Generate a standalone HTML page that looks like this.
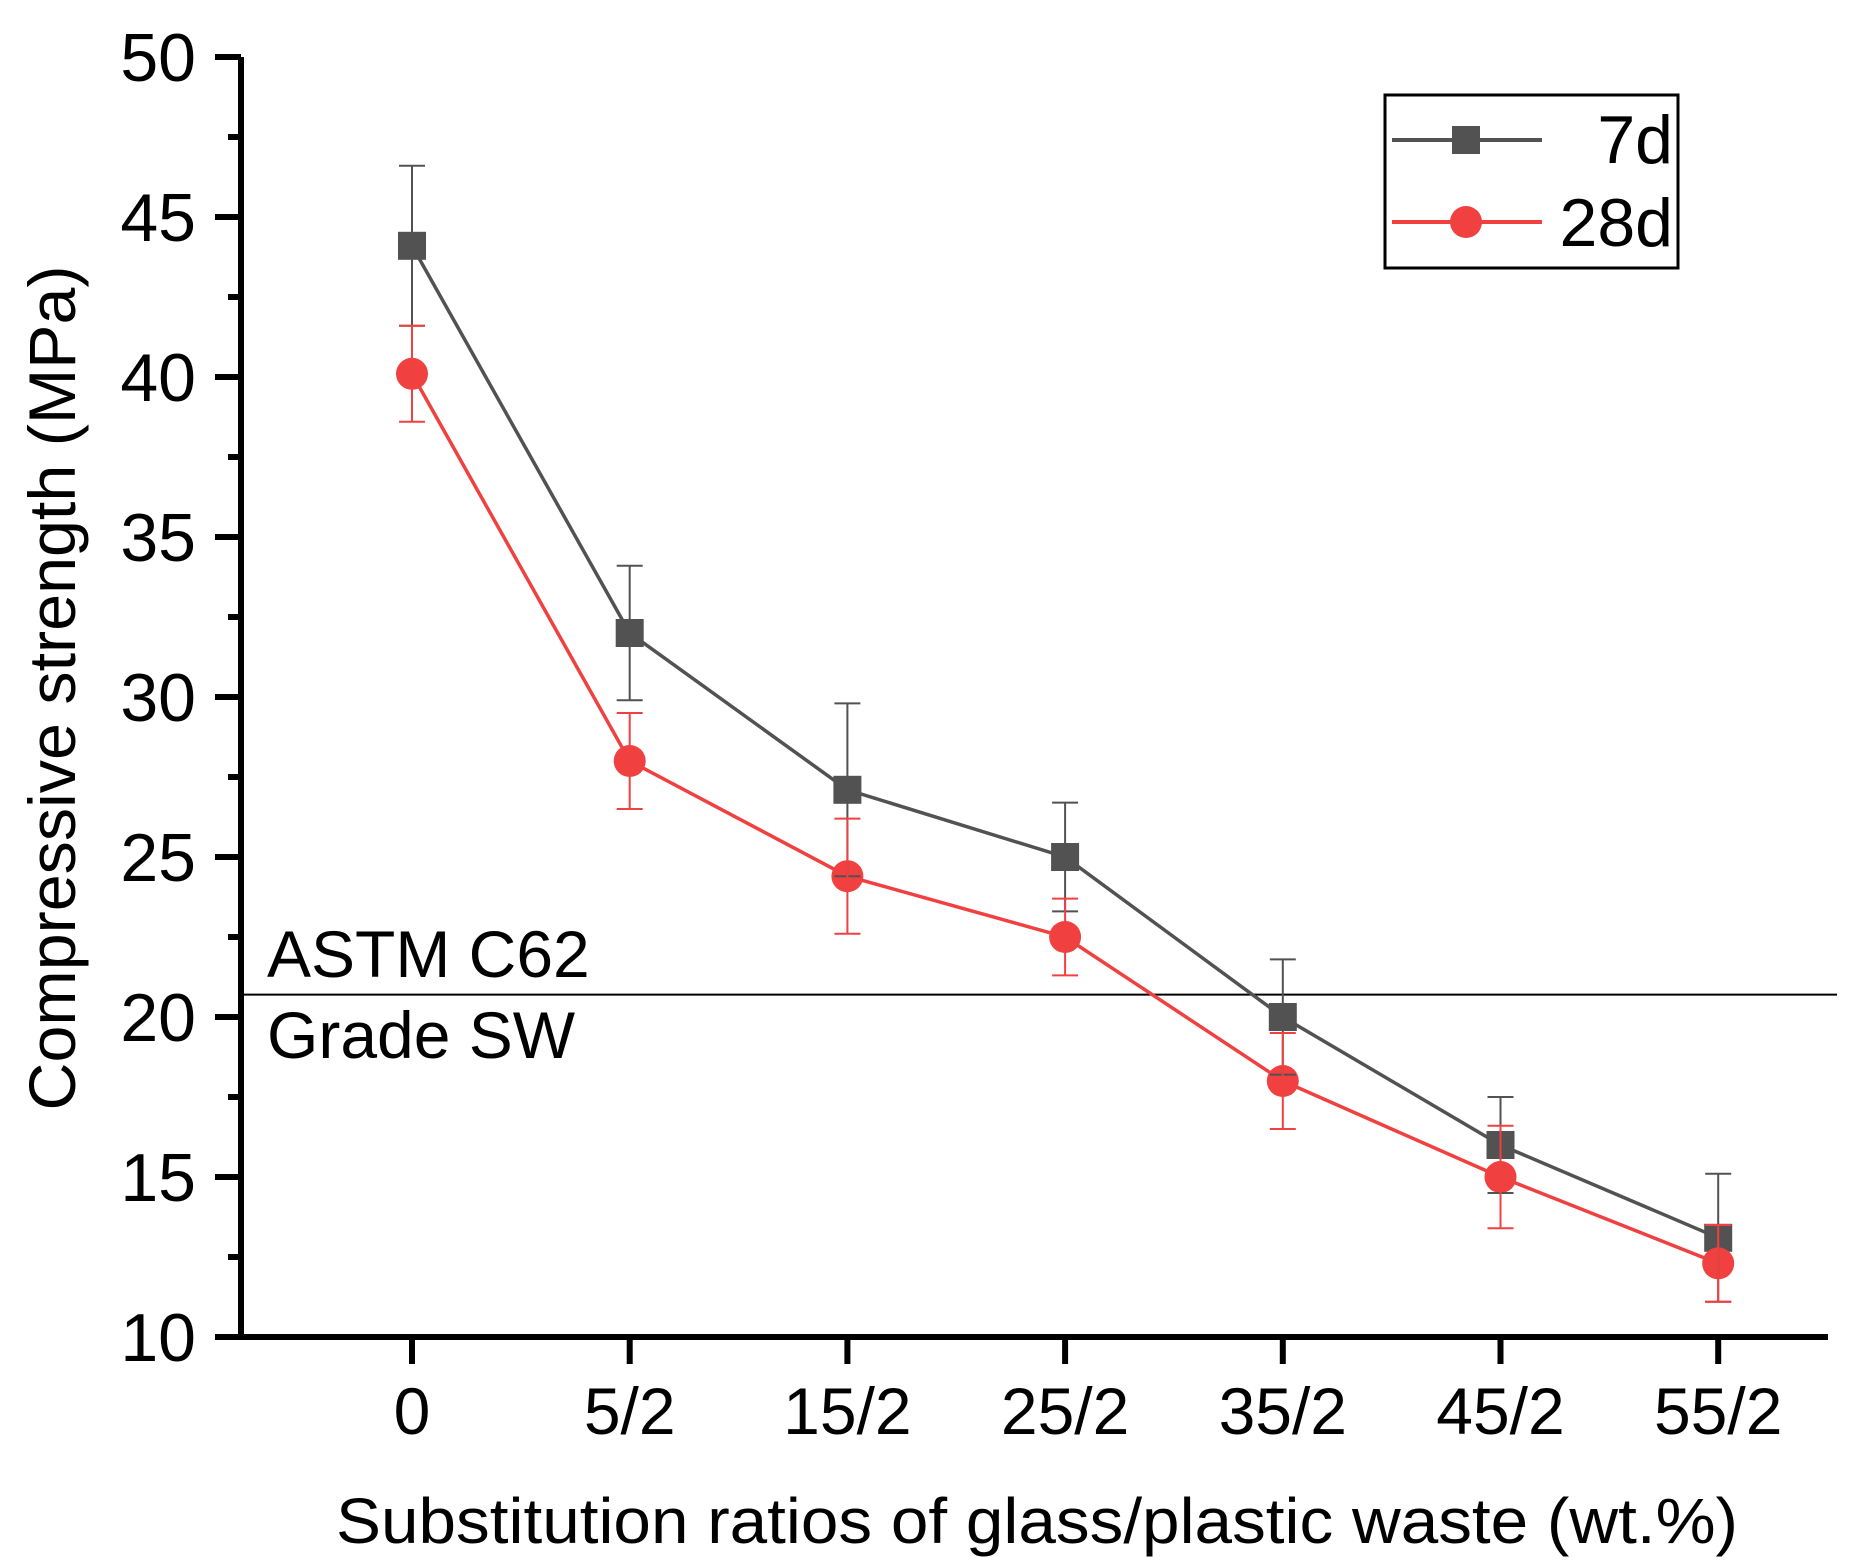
<!DOCTYPE html>
<html><head><meta charset="utf-8"><style>
html,body{margin:0;padding:0;background:#fff;}
svg{display:block;font-family:"Liberation Sans",Arial,sans-serif;}
</style></head><body>
<svg id="chart" width="1855" height="1568" viewBox="0 0 1855 1568" xmlns="http://www.w3.org/2000/svg">
<g id="plot"></g>
<text transform="translate(75,688) rotate(-90)" text-anchor="middle" font-size="66" textLength="845" lengthAdjust="spacingAndGlyphs">Compressive strength (MPa)</text>
<text x="336" y="1543" font-size="64" textLength="1402" lengthAdjust="spacingAndGlyphs">Substitution ratios of  glass/plastic waste (wt.%)</text>
<text x="267" y="977" font-size="66">ASTM C62</text>
<text x="267" y="1058" font-size="66">Grade SW</text>
<g>
<rect x="1385" y="95" width="293" height="173" fill="#fff" stroke="#000" stroke-width="3"/>
<line x1="1392" y1="140" x2="1542" y2="140" stroke="#525252" stroke-width="4"/>
<rect x="1452" y="126" width="28" height="28" fill="#525252"/>
<text x="1673" y="163" font-size="68" text-anchor="end">7d</text>
<line x1="1392" y1="222" x2="1542" y2="222" stroke="#f04040" stroke-width="4"/>
<circle cx="1466" cy="222" r="16" fill="#f04040"/>
<text x="1673" y="246" font-size="68" text-anchor="end">28d</text>
</g>
</svg>
<script>
const categories = ["0","5/2","15/2","25/2","35/2","45/2","55/2"];
const s7 = [44.1,32,27.1,25,20,16,13.1];
const e7 = [2.5,2.1,2.7,1.7,1.8,1.5,2.0];
const s28 = [40.1,28,24.4,22.5,18,15,12.3];
const e28 = [1.5,1.5,1.8,1.2,1.5,1.6,1.2];
const yTicks = [10,15,20,25,30,35,40,45,50];
const refValue = 20.7;

const NS="http://www.w3.org/2000/svg";
const g=document.getElementById('plot');
const X0=241, X1=1828, Y10=1337, PX=32;
const xs=i=>412+i*217.7;
const ys=v=>Y10-(v-10)*PX;
function mk(t,a){const e=document.createElementNS(NS,t);for(const k in a)e.setAttribute(k,a[k]);g.appendChild(e);return e;}

let rl=mk('line',{x1:X0,x2:1837,y1:ys(refValue),y2:ys(refValue),stroke:'#000','stroke-width':2});



function series(vals,color,name,square){
  let pts=vals.map((v,i)=>xs(i)+','+ys(v)).join(' ');
  let pl=mk('polyline',{points:pts,fill:'none',stroke:color,'stroke-width':3.5});
  
  
  vals.forEach((v,i)=>{
    let m;
    if(square){m=mk('rect',{x:xs(i)-14,y:ys(v)-14,width:28,height:28,fill:color});}
    else{m=mk('circle',{cx:xs(i),cy:ys(v),r:16,fill:color});}
    
    
  });
}
series(s7,'#525252','series-7d',true);
series(s28,'#f04040','series-28d',false);
function errbars(vals,errs,color,name){
  vals.forEach((v,i)=>{
    const x=xs(i),t=ys(v+errs[i]),b=ys(v-errs[i]);
    let l=mk('path',{d:`M${x},${t}V${b}M${x-13},${t}H${x+13}M${x-13},${b}H${x+13}`,stroke:color,'stroke-width':2,fill:'none'});
    
    
  });
}
errbars(s7,e7,'#525252','series-7d');
errbars(s28,e28,'#f04040','series-28d');

let ax=mk('path',{d:`M${X0},${ys(50)}V${Y10}H${X1}`,stroke:'#000','stroke-width':6,fill:'none'});


yTicks.forEach(v=>{
  let t=mk('line',{x1:X0-26,x2:X0,y1:ys(v),y2:ys(v),stroke:'#000','stroke-width':6});
  
  
  if(v<50){let m=mk('line',{x1:X0-13,x2:X0,y1:ys(v+2.5),y2:ys(v+2.5),stroke:'#000','stroke-width':6});
  
  }
  let lb=mk('text',{x:196,y:ys(v)+24,'font-size':68,'text-anchor':'end'});
  lb.textContent=v;
  
  
});
categories.forEach((c,i)=>{
  let t=mk('line',{x1:xs(i),x2:xs(i),y1:Y10,y2:Y10+27,stroke:'#000','stroke-width':6});
  
  
  let lb=mk('text',{x:xs(i),y:1434,'font-size':66,'text-anchor':'middle'});
  lb.textContent=c;
  
  
});
</script>
</body></html>
